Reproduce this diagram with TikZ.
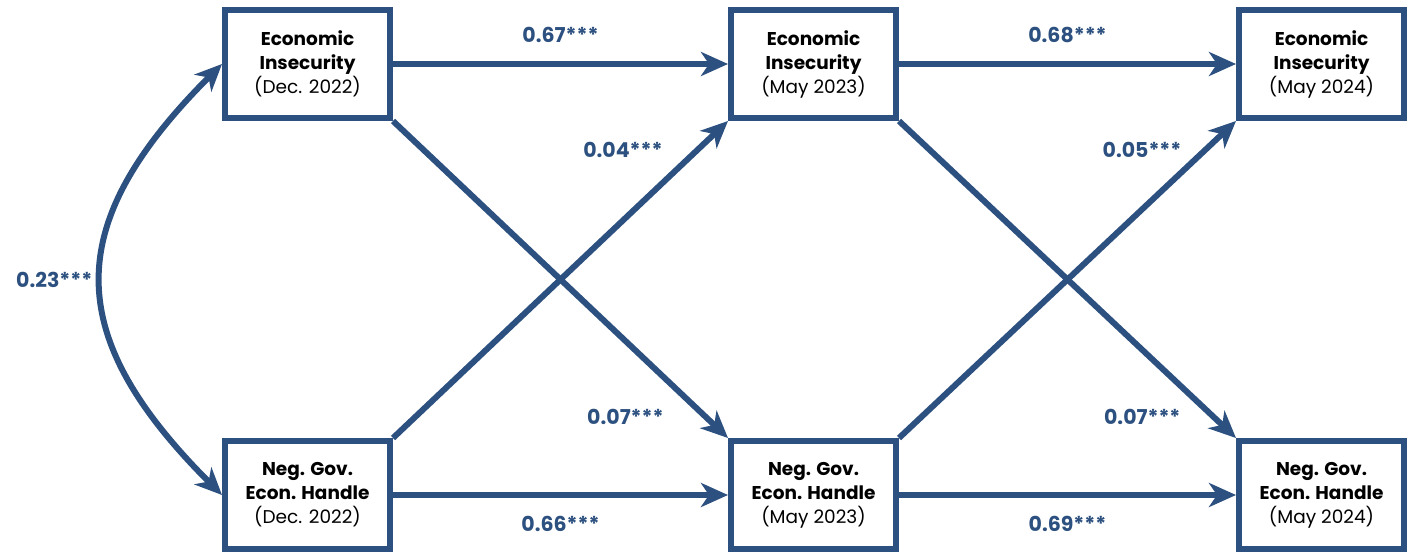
\documentclass[tikz,border=0pt]{standalone}
\usepackage{fontspec}
\setmainfont{Poppins}
\usetikzlibrary{positioning,arrows.meta}
\definecolor{pathblue}{RGB}{44,80,127}

\begin{document}
\begin{tikzpicture}[x=1pt,y=1pt,>={Stealth[length=27pt,width=24pt,inset=8pt]},
  var/.style={draw=pathblue,line width=6pt,minimum width=165pt,minimum height=108pt,
    inner sep=0pt,align=center,fill=white,font=\fontsize{18.5}{24}\selectfont},
  coef/.style={text=pathblue,font=\fontsize{20.5}{24}\selectfont\bfseries}]
  \useasboundingbox (0,0) rectangle (1416,-552);
  \node[var] at (307.5,-64) (ei1) {\textbf{Economic}\\\textbf{Insecurity}\\(Dec. 2022)};
  \node[var,right=335pt of ei1] (ei2) {\textbf{Economic}\\\textbf{Insecurity}\\(May 2023)};
  \node[var,right=337pt of ei2] (ei3) {\textbf{Economic}\\\textbf{Insecurity}\\(May 2024)};
  \node[var,below=317pt of ei1] (ng1) {\textbf{Neg. Gov.}\\\textbf{Econ. Handle}\\(Dec. 2022)};
  \node[var,below=317pt of ei2] (ng2) {\textbf{Neg. Gov.}\\\textbf{Econ. Handle}\\(May 2023)};
  \node[var,below=317pt of ei3] (ng3) {\textbf{Neg. Gov.}\\\textbf{Econ. Handle}\\(May 2024)};
  \path[->,pathblue,line width=6pt]
    (ei1) edge node[coef,midway,above=15pt] {0.67***} (ei2)
    (ei2) edge node[coef,midway,above=15pt] {0.68***} (ei3)
    (ng1) edge node[coef,midway,below=15pt] {0.66***} (ng2)
    (ng2) edge node[coef,midway,below=15pt] {0.69***} (ng3)
    (ng1.north east) edge node[coef,pos=0.91,left=29pt] {0.04***} (ei2.south west)
    (ei1.south east) edge node[coef,pos=0.934,left=36pt] {0.07***} (ng2.north west)
    (ng2.north east) edge node[coef,pos=0.91,left=18pt] {0.05***} (ei3.south west)
    (ei2.south east) edge node[coef,pos=0.934,left=27pt] {0.07***} (ng3.north west)
    (ei1.west) edge[<->,out=225,in=135,looseness=1.35] node[coef,midway,left=3pt] {0.23***} (ng1.west);
\end{tikzpicture}
\end{document}
